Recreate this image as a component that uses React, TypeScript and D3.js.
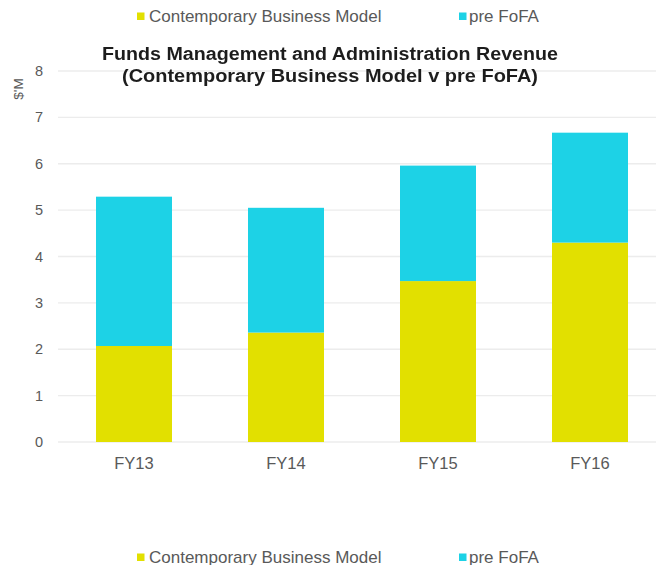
import React from "react";
import * as d3 from "d3";

const categories = ["FY13", "FY14", "FY15", "FY16"];
const contemporary = [2.07, 2.36, 3.47, 4.3];
const preFofa = [3.22, 2.69, 2.49, 2.37];
const yTicks = [0, 1, 2, 3, 4, 5, 6, 7, 8];
const seriesNames = ["Contemporary Business Model", "pre FoFA"];
const seriesColors = ["#E2E000", "#1DD2E6"];
const titleLines = [
  "Funds Management and Administration  Revenue",
  "(Contemporary Business Model v pre FoFA)",
];

const W = 656;
const H = 565;
const FONT = "'Liberation Sans', Arial, sans-serif";

export default function App() {
  const x = d3
    .scaleBand<string>()
    .domain(categories)
    .range([58, 666])
    .paddingInner(0.5)
    .paddingOuter(0.25);
  const y = d3.scaleLinear().domain([0, 8]).range([442, 71]);

  const rows = categories.map((c, i) => ({ cat: c, a: contemporary[i], b: preFofa[i] }));
  const stack = d3.stack<any>().keys(["a", "b"]);
  const layers = stack(rows);

  const legendItems = [
    { sq: 137, tx: 149 },
    { sq: 459, tx: 469 },
  ];

  const legend = (yy: number, key: string) => (
    <g key={key}>
      {seriesNames.map((n, i) => (
        <g key={n}>
          <rect x={legendItems[i].sq} y={yy - 9} width={7.5} height={7.5} fill={seriesColors[i]} />
          <text x={legendItems[i].tx} y={yy} fontFamily={FONT} fontSize={17} fill="#595959">
            {n}
          </text>
        </g>
      ))}
    </g>
  );

  return (
    <svg
      width={W}
      height={H}
      style={{ position: "absolute", left: 0, top: 0, background: "#fff" }}
    >
      <defs>
        <filter id="soft" x="-5%" y="-20%" width="110%" height="140%">
          <feGaussianBlur stdDeviation="0.45" />
        </filter>
      </defs>
      {/* gridlines */}
      {yTicks.map((t) => (
        <line key={t} x1={58} x2={W} y1={y(t)} y2={y(t)} stroke="#ECECEC" strokeWidth={1.3} />
      ))}
      {/* bars */}
      {layers.map((layer, li) => (
        <g key={li} fill={seriesColors[li]}>
          {layer.map((d: any, i: number) => (
            <rect
              key={i}
              x={x(categories[i])}
              width={x.bandwidth()}
              y={y(d[1])}
              height={y(d[0]) - y(d[1])}
            />
          ))}
        </g>
      ))}
      {/* y tick labels */}
      {yTicks.map((t) => (
        <text
          key={t}
          x={43}
          y={y(t) + 5}
          textAnchor="end"
          fontFamily={FONT}
          fontSize={14.5}
          fill="#595959"
        >
          {t}
        </text>
      ))}
      <text
        transform={`translate(23,89) rotate(-90)`}
        textAnchor="middle"
        fontFamily={FONT}
        fontSize={13.5}
        fill="#595959"
      >
        $'M
      </text>
      {/* x labels */}
      {categories.map((c) => (
        <text
          key={c}
          x={(x(c) as number) + x.bandwidth() / 2}
          y={468.5}
          textAnchor="middle"
          fontFamily={FONT}
          fontSize={16.5}
          fill="#595959"
        >
          {c}
        </text>
      ))}
      {/* title */}
      <g filter="url(#soft)">
        {titleLines.map((l, i) => (
          <text
            key={i}
            x={330}
            y={59.5 + i * 22.5}
            textAnchor="middle"
            fontFamily={FONT}
            fontWeight="bold"
            fontSize={18}
            fill="#1F1F1F"
            textLength={i === 0 ? 456 : 416}
            lengthAdjust="spacingAndGlyphs"
          >
            {l}
          </text>
        ))}
      </g>
      {legend(21.5, "top")}
      {legend(562.5, "bottom")}
    </svg>
  );
}
